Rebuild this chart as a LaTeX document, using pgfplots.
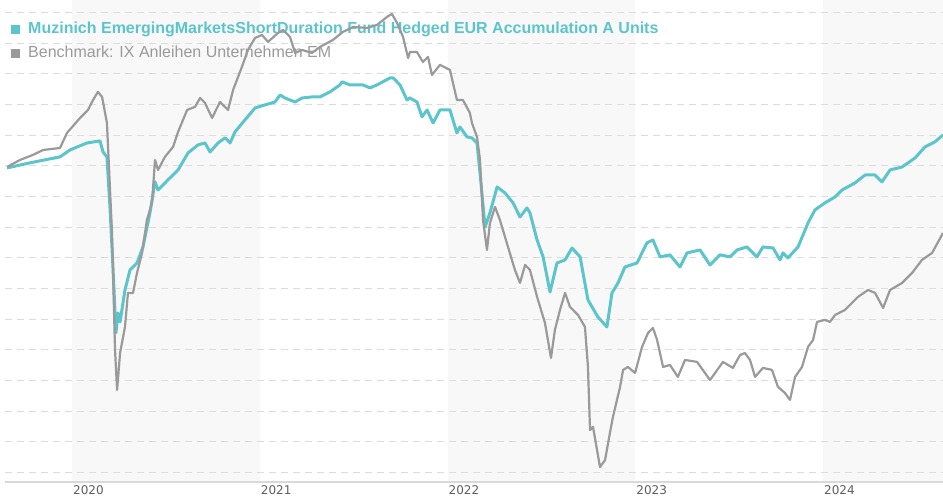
\documentclass[border=0pt]{standalone}
\usepackage{pgfplots}
\pgfplotsset{compat=1.18}
\usepackage{fontspec}
\setmainfont{Liberation Sans}
\newfontfamily\labfont{DejaVu Sans}
\definecolor{fundcol}{HTML}{5CC5CC}
\definecolor{benchcol}{HTML}{9A9A9A}
\definecolor{bandcol}{HTML}{F8F8F8}
\definecolor{gridcol}{HTML}{DCDCDC}
\definecolor{axiscol}{HTML}{D9D9D9}
\definecolor{labcol}{HTML}{5E5E5E}
\begin{document}
\begin{tikzpicture}
\begin{axis}[
  at={(5pt,18pt)}, anchor=south west,
  scale only axis, width=938pt, height=482pt,
  set layers,
  xmin=2019.643, xmax=2024.639, ymin=79.39, ymax=110.82,
  axis x line*=bottom, axis y line*=left,
  y axis line style={draw=none},
  x axis line style={axiscol, line width=1.5pt, -},
  major tick length=0pt,
  ytick={80,82,...,110}, yticklabels={}, yticklabel style={inner sep=0pt},
  ymajorgrids, xmajorgrids=false,
  major grid style={gridcol, line width=1pt, dash pattern=on 7pt off 5pt},
  xtick={2020,2021,2022,2023,2024},
  xticklabels={2020,2021,2022,2023,2024},
  xticklabel style={font=\labfont\fontsize{12}{14}\selectfont, text=labcol, anchor=north west, inner sep=0pt, yshift=-3pt, xshift=1pt},
  clip=true,
]
\begin{pgfonlayer}{axis background}
\fill[bandcol] (axis cs:2020,79.39) rectangle (axis cs:2021,110.82);
\fill[bandcol] (axis cs:2022,79.39) rectangle (axis cs:2023,110.82);
\fill[bandcol] (axis cs:2024,79.39) rectangle (axis cs:2024.639,110.82);
\end{pgfonlayer}
\begin{pgfonlayer}{pre main}
\node[anchor=base west, inner sep=0pt, font=\fontsize{16}{18}\selectfont\bfseries, text=fundcol] at (axis cs:2019.675,108.61) {\rule{9pt}{9pt}\hspace{8pt}Muzinich EmergingMarketsShortDuration Fund Hedged EUR Accumulation A Units};
\node[anchor=base west, inner sep=0pt, font=\fontsize{16}{18}\selectfont, text=benchcol] at (axis cs:2019.675,107.04) {\rule{9pt}{9pt}\hspace{8pt}Benchmark: IX Anleihen Unternehmen EM};
\end{pgfonlayer}
% Fund
\addplot[fundcol, line width=3pt, line join=round] coordinates {
(2019.654,99.87) (2019.776,100.20) (2019.936,100.59) (2019.989,101.04) (2020.080,101.50)
(2020.149,101.63) (2020.165,100.91) (2020.186,100.59) (2020.202,97.33) (2020.218,93.41)
(2020.234,89.11) (2020.245,90.41) (2020.256,89.83) (2020.282,91.91) (2020.309,93.22)
(2020.346,93.67) (2020.378,94.72) (2020.415,96.94) (2020.442,98.96) (2020.458,98.43)
(2020.511,99.09) (2020.565,99.74) (2020.618,100.85) (2020.671,101.37) (2020.708,101.50)
(2020.735,100.91) (2020.778,101.50) (2020.815,101.83) (2020.842,101.50) (2020.868,102.22)
(2020.921,103.00) (2020.975,103.78) (2021.028,103.98) (2021.081,104.17) (2021.108,104.63)
(2021.134,104.43) (2021.188,104.17) (2021.225,104.43) (2021.278,104.50) (2021.321,104.50)
(2021.374,104.83) (2021.427,105.28) (2021.438,105.48) (2021.481,105.28) (2021.550,105.28)
(2021.587,105.09) (2021.624,105.28) (2021.694,105.74) (2021.710,105.74) (2021.747,105.28)
(2021.784,104.30) (2021.800,104.43) (2021.837,104.17) (2021.864,103.20) (2021.891,103.65)
(2021.923,102.80) (2021.960,103.65) (2022.013,103.65) (2022.050,102.15) (2022.066,102.54)
(2022.104,101.89) (2022.130,101.83) (2022.157,101.50) (2022.173,99.54) (2022.200,96.02)
(2022.226,96.94) (2022.264,98.63) (2022.306,98.24) (2022.349,97.59) (2022.386,96.67)
(2022.423,97.26) (2022.439,96.94) (2022.477,95.17) (2022.509,94.07) (2022.546,91.78)
(2022.583,93.67) (2022.626,93.87) (2022.663,94.65) (2022.706,94.07) (2022.748,91.26)
(2022.801,90.15) (2022.849,89.50) (2022.876,91.72) (2022.908,92.37) (2022.945,93.41)
(2023.009,93.67) (2023.062,94.98) (2023.094,95.17) (2023.132,94.07) (2023.185,94.20)
(2023.238,93.41) (2023.276,94.33) (2023.345,94.52) (2023.398,93.54) (2023.451,94.20)
(2023.505,94.07) (2023.542,94.52) (2023.595,94.72) (2023.648,94.07) (2023.680,94.72)
(2023.734,94.65) (2023.771,93.87) (2023.787,94.33) (2023.813,94.00) (2023.867,94.72)
(2023.920,96.28) (2023.957,97.13) (2024.010,97.59) (2024.064,97.98) (2024.101,98.43)
(2024.170,98.89) (2024.224,99.41) (2024.277,99.41) (2024.314,98.96) (2024.357,99.74)
(2024.421,99.93) (2024.490,100.52) (2024.543,101.24) (2024.596,101.57) (2024.639,102.02)
};
% Benchmark
\addplot[benchcol, line width=2.2pt, line join=round] coordinates {
(2019.654,99.93) (2019.723,100.39) (2019.792,100.72) (2019.846,101.04) (2019.936,101.17)
(2019.973,102.15) (2020.043,103.13) (2020.085,103.65) (2020.112,104.30) (2020.138,104.83)
(2020.160,104.50) (2020.176,103.46) (2020.186,102.80) (2020.213,95.63) (2020.229,88.00)
(2020.240,85.39) (2020.256,87.81) (2020.282,89.50) (2020.298,91.72) (2020.325,91.72)
(2020.346,93.02) (2020.373,94.33) (2020.399,96.48) (2020.426,97.59) (2020.442,100.39)
(2020.458,99.74) (2020.495,100.59) (2020.538,101.24) (2020.565,102.22) (2020.613,103.65)
(2020.655,103.85) (2020.682,104.43) (2020.708,104.11) (2020.746,103.13) (2020.788,104.17)
(2020.831,103.65) (2020.858,104.96) (2020.905,106.46) (2020.937,107.56) (2020.975,108.35)
(2021.012,108.54) (2021.044,108.09) (2021.097,108.67) (2021.124,108.87) (2021.161,108.41)
(2021.188,107.37) (2021.225,107.56) (2021.278,107.37) (2021.321,107.76) (2021.390,108.22)
(2021.443,108.74) (2021.497,109.06) (2021.571,109.00) (2021.624,109.19) (2021.678,109.72)
(2021.704,109.91) (2021.731,109.33) (2021.763,108.41) (2021.790,107.04) (2021.800,107.43)
(2021.837,107.43) (2021.869,106.78) (2021.896,107.11) (2021.917,105.93) (2021.960,106.59)
(2022.013,106.26) (2022.050,104.30) (2022.082,104.30) (2022.119,103.46) (2022.130,102.80)
(2022.157,101.89) (2022.173,100.39) (2022.189,96.48) (2022.210,94.52) (2022.226,96.28)
(2022.253,97.33) (2022.279,96.48) (2022.322,94.72) (2022.359,93.22) (2022.386,92.37)
(2022.413,93.54) (2022.439,93.22) (2022.477,91.46) (2022.519,89.76) (2022.551,87.48)
(2022.572,89.31) (2022.599,90.61) (2022.626,91.72) (2022.652,90.81) (2022.695,90.28)
(2022.732,89.50) (2022.748,86.89) (2022.759,82.78) (2022.775,82.98) (2022.812,80.37)
(2022.839,80.82) (2022.865,82.59) (2022.881,83.63) (2022.919,85.59) (2022.935,86.70)
(2022.961,86.89) (2022.999,86.50) (2023.036,88.20) (2023.068,89.11) (2023.094,89.44)
(2023.116,88.66) (2023.148,86.89) (2023.185,87.02) (2023.227,86.24) (2023.265,87.35)
(2023.329,87.22) (2023.398,86.04) (2023.467,87.22) (2023.520,86.83) (2023.558,87.67)
(2023.584,87.80) (2023.611,87.35) (2023.638,86.24) (2023.680,86.83) (2023.728,86.70)
(2023.760,85.59) (2023.797,85.20) (2023.824,84.74) (2023.851,86.24) (2023.888,86.89)
(2023.920,88.20) (2023.947,88.65) (2023.968,89.83) (2024.010,89.96) (2024.037,89.83)
(2024.064,90.28) (2024.117,90.61) (2024.186,91.46) (2024.240,91.91) (2024.277,91.72)
(2024.320,90.74) (2024.357,91.91) (2024.421,92.37) (2024.474,93.02) (2024.527,93.87)
(2024.581,94.33) (2024.639,95.63)
};
\end{axis}
\pgfresetboundingbox
\path[use as bounding box] (0,0) rectangle (943pt,500pt);
\end{tikzpicture}
\end{document}
